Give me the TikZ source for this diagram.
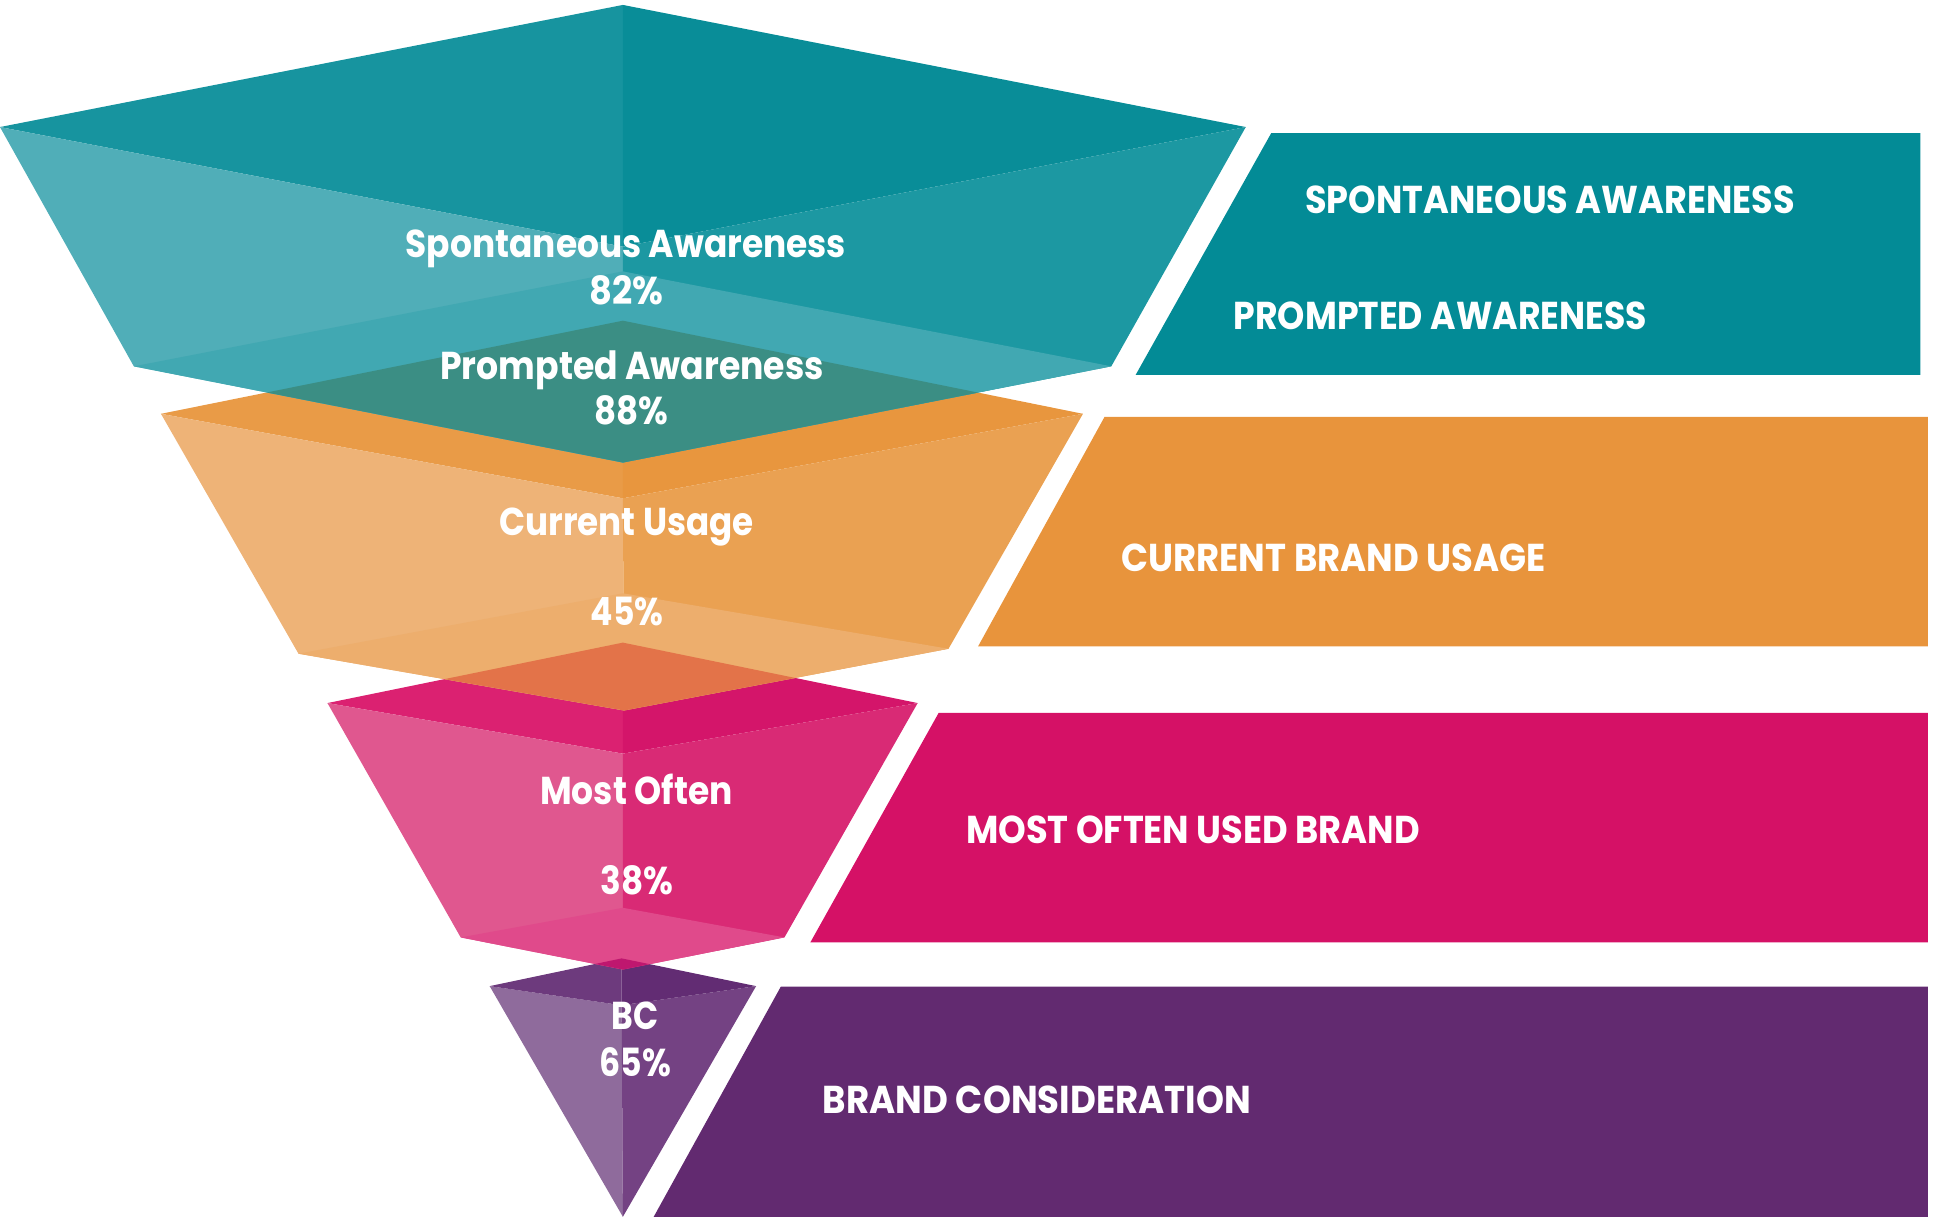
\documentclass[tikz,border=0pt]{standalone}
\usepackage{fontspec}
\usepackage{graphicx}
\setmainfont{Poppins}

% face colours of the four funnel layers
\definecolor{tealTL}{HTML}{17949F}
\definecolor{tealTR}{HTML}{098D98}
\definecolor{tealFL}{HTML}{50AEB8}
\definecolor{tealFR}{HTML}{1C98A2}
\definecolor{tealBot}{HTML}{41A8B2}
\definecolor{tealBox}{HTML}{038B96}
\definecolor{tealOnOrange}{HTML}{3B8E84}

\definecolor{orTL}{HTML}{E99B47}
\definecolor{orTR}{HTML}{E8963E}
\definecolor{orFL}{HTML}{EEB377}
\definecolor{orFR}{HTML}{EAA152}
\definecolor{orBot}{HTML}{EDAE6D}
\definecolor{orBox}{HTML}{E8943C}
\definecolor{orOnPink}{HTML}{E37349}

\definecolor{pkTL}{HTML}{DB2171}
\definecolor{pkTR}{HTML}{D4156A}
\definecolor{pkFL}{HTML}{E0578F}
\definecolor{pkFR}{HTML}{D92A75}
\definecolor{pkBot}{HTML}{E04A8B}
\definecolor{pkBox}{HTML}{D51166}
\definecolor{pkOnPurple}{HTML}{BF176F}

\definecolor{puTL}{HTML}{6D3A7D}
\definecolor{puTR}{HTML}{622C73}
\definecolor{puFL}{HTML}{8F6B9C}
\definecolor{puFR}{HTML}{744283}
\definecolor{puBox}{HTML}{622A70}

% stretch a text horizontally to a given width, keeping its height
\newcommand{\fitw}[2]{\resizebox{#1pt}{\height}{#2}}
\newcommand{\labfont}{\fontsize{31.5}{36}\selectfont\bfseries}

\begin{document}
\begin{tikzpicture}[x=1pt,y=-1pt,
  lab/.style={text=white,font=\labfont,inner sep=0pt,anchor=base west},
  fun/.style={text=white,font=\labfont,inner sep=0pt,anchor=base}]
\useasboundingbox (0,0) rectangle (1568,987.5);

% ---------- corner points ----------
% teal layer
\coordinate (T1) at (505,4);   \coordinate (L1) at (0,103);
\coordinate (R1) at (1010,103); \coordinate (F1) at (505,200);
\coordinate (B1b) at (505,220); \coordinate (L1b) at (108.5,297);
\coordinate (R1b) at (901,297); \coordinate (F1b) at (505,375);
% orange layer
\coordinate (T2) at (505,260);  \coordinate (L2) at (130.5,335.5);
\coordinate (R2) at (878,335.5); \coordinate (F2) at (505,404);
\coordinate (B2b) at (505,481); \coordinate (L2b) at (242,530);
\coordinate (R2b) at (769,526); \coordinate (F2b) at (506,576);
% pink layer
\coordinate (T3) at (505,521);  \coordinate (L3) at (265.5,570);
\coordinate (R3) at (744,570);  \coordinate (F3) at (505,611);
\coordinate (B3b) at (505,736); \coordinate (L3b) at (373.5,760);
\coordinate (R3b) at (636,760); \coordinate (F3b) at (505,786);
% purple layer
\coordinate (T4) at (504,777);  \coordinate (L4) at (397,799.5);
\coordinate (R4) at (613,799.5); \coordinate (F4) at (504,815);
\coordinate (AP) at (505,986.5);

% ---------- label bands ----------
\fill[tealBox] (1030.6,108) -- (1557,108) -- (1557,304) -- (920.7,304) -- cycle;
\fill[orBox] (895.5,338) -- (1563,338) -- (1563,524) -- (793,524) -- cycle;
\fill[pkBox] (761,578) -- (1563,578) -- (1563,764) -- (657,764) -- cycle;
\fill[puBox] (633,800) -- (1563,800) -- (1563,986.5) -- (530,986.5) -- cycle;

% ---------- purple layer ----------
\fill[puFL] (L4) -- (F4) -- (AP) -- cycle;
\fill[puFR] (F4) -- (R4) -- (AP) -- cycle;
\fill[puTL] (T4) -- (L4) -- (F4) -- cycle;
\fill[puTR] (T4) -- (F4) -- (R4) -- cycle;

% ---------- pink layer ----------
\fill[pkTL] (T3) -- (L3) -- (F3) -- cycle;
\fill[pkTR] (T3) -- (F3) -- (R3) -- cycle;
\fill[pkFL] (L3) -- (F3) -- (F3b) -- (L3b) -- cycle;
\fill[pkFR] (F3) -- (R3) -- (R3b) -- (F3b) -- cycle;
\fill[pkBot] (B3b) -- (L3b) -- (F3b) -- (R3b) -- cycle;
\begin{scope}
  \clip (T4) -- (L4) -- (F4) -- (R4) -- cycle;
  \fill[pkOnPurple] (B3b) -- (L3b) -- (F3b) -- (R3b) -- cycle;
\end{scope}

% ---------- orange layer ----------
\fill[orTL] (T2) -- (L2) -- (F2) -- cycle;
\fill[orTR] (T2) -- (F2) -- (R2) -- cycle;
\fill[orFL] (L2) -- (F2) -- (F2b) -- (L2b) -- cycle;
\fill[orFR] (F2) -- (R2) -- (R2b) -- (F2b) -- cycle;
\fill[orBot] (B2b) -- (L2b) -- (F2b) -- (R2b) -- cycle;
\begin{scope}
  \clip (T3) -- (L3) -- (F3) -- (R3) -- cycle;
  \fill[orOnPink] (B2b) -- (L2b) -- (F2b) -- (R2b) -- cycle;
\end{scope}

% ---------- teal layer ----------
\fill[tealTL] (T1) -- (L1) -- (F1) -- cycle;
\fill[tealTR] (T1) -- (F1) -- (R1) -- cycle;
\fill[tealFL] (L1) -- (F1) -- (F1b) -- (L1b) -- cycle;
\fill[tealFR] (F1) -- (R1) -- (R1b) -- (F1b) -- cycle;
\fill[tealBot] (B1b) -- (L1b) -- (F1b) -- (R1b) -- cycle;
\begin{scope}
  \clip (T2) -- (L2) -- (F2) -- (R2) -- cycle;
  \fill[tealOnOrange] (B1b) -- (L1b) -- (F1b) -- (R1b) -- cycle;
\end{scope}

% ---------- funnel texts ----------
\node[fun] (spont) at (507.5,209) {\fitw{357}{Spontaneous Awareness}};
\node[fun] (spontv) at (508,246.5) {\fitw{60}{82\%}};
\node[fun] (prompt) at (512.5,308) {\fitw{311}{Prompted Awareness}};
\node[fun] (promptv) at (512,344.5) {\fitw{60}{88\%}};
\node[fun] (usage) at (508,434) {\fitw{206}{Current Usage}};
\node[fun] (usagev) at (508.5,507.5) {\fitw{59}{45\%}};
\node[fun] (often) at (516,652) {\fitw{156}{Most Often}};
\node[fun] (oftenv) at (516.5,725) {\fitw{59}{38\%}};
\node[fun] (bc) at (515,835) {\fitw{38}{BC}};
\node[fun] (bcv) at (515,872.5) {\fitw{58}{65\%}};

% ---------- band texts ----------
\node[lab] (labSA) at (1058,173) {\fitw{397}{SPONTANEOUS AWARENESS}};
\node[lab] (labPA) at (1000,267.5) {\fitw{335}{PROMPTED AWARENESS}};
\node[lab] (labCU) at (909,463) {\fitw{344}{CURRENT BRAND USAGE}};
\node[lab] (labMO) at (783,684) {\fitw{368}{MOST OFTEN USED BRAND}};
\node[lab] (labBC) at (667,903) {\fitw{347}{BRAND CONSIDERATION}};
\end{tikzpicture}
\end{document}
